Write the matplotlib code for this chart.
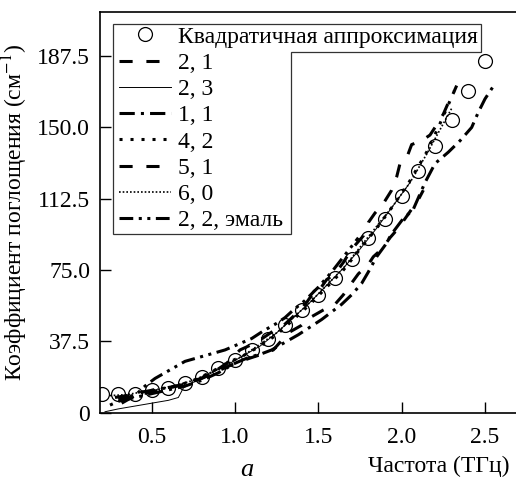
import matplotlib
matplotlib.use('Agg')
import matplotlib.pyplot as plt
from matplotlib.patches import Polygon

plt.rcParams['font.family'] = ['Liberation Serif', 'DejaVu Serif']
plt.rcParams['mathtext.fontset'] = 'stix'

# quadratic fit, shown as open circles
x_quad = [0.2, 0.3, 0.4, 0.5, 0.6, 0.7, 0.8, 0.9, 1.0, 1.1, 1.2, 1.3,
          1.4, 1.5, 1.6, 1.7, 1.8, 1.9, 2.0, 2.1, 2.2, 2.3, 2.4, 2.5]
y_quad = [10, 10, 10, 12, 13, 15.5, 19, 23.5, 27.5, 33, 39, 46,
          54, 62, 71, 81, 92, 102, 114, 127, 140, 154, 169, 185]

# measured samples
x_21 = [0.28, 0.35, 0.45, 0.55, 0.65, 0.75, 0.85, 0.95, 1.03, 1.08, 1.13, 1.18,
        1.23, 1.28, 1.33, 1.39, 1.43, 1.47, 1.51, 1.55, 1.60, 1.65, 1.70, 1.73,
        1.77, 1.80, 1.84, 1.89, 1.94, 1.97, 1.99, 2.03, 2.06, 2.12, 2.17, 2.20,
        2.25, 2.28, 2.31, 2.33]
y_21 = [8, 9, 11, 12.5, 14, 16.5, 20, 26, 33, 35, 37, 40,
        43, 45, 49, 54, 58, 63, 65, 70, 73, 79, 86, 89,
        93, 100, 105, 110, 117, 124, 131, 134, 141, 143, 146, 150,
        157, 163, 168, 172]

x_23 = [0.22, 0.3, 0.4, 0.5, 0.6, 0.66, 0.69, 0.75, 0.85, 0.95, 1.05, 1.15,
        1.25, 1.35, 1.45, 1.55, 1.65, 1.75, 1.85, 1.95, 2.05]
y_23 = [0.5, 2, 3.5, 5, 6.5, 8, 13, 16, 20.5, 25, 30, 35,
        42, 50, 58, 67, 76, 86, 97, 109, 121]

x_11 = [0.3, 0.4, 0.5, 0.6, 0.7, 0.8, 0.9, 1.0, 1.08, 1.16, 1.22, 1.3,
        1.38, 1.45, 1.52, 1.58, 1.64, 1.7, 1.76, 1.8, 1.85, 1.9, 1.94, 2.0,
        2.07, 2.14, 2.2, 2.28, 2.35, 2.42, 2.46, 2.5, 2.56]
y_11 = [6, 8, 10, 12, 14, 17, 21, 26, 29, 31, 33, 37,
        41, 45, 49, 53, 57, 62, 68, 74, 82, 88, 94, 101,
        107, 121, 131, 137, 143, 150, 158, 165, 173]

x_42 = [0.25, 0.35, 0.45, 0.55, 0.65, 0.75, 0.85, 0.95, 1.05, 1.15, 1.25, 1.35,
        1.45, 1.55, 1.65, 1.75, 1.85, 1.95, 2.05, 2.15, 2.22, 2.28, 2.33]
y_42 = [4, 8, 11, 12.5, 14, 17, 21, 26, 30, 35, 41, 49,
        57, 66, 75, 86, 97, 109, 122, 137, 150, 162, 172]

x_51 = [0.3, 0.4, 0.5, 0.6, 0.7, 0.8, 0.9, 1.0, 1.1, 1.17, 1.23, 1.32,
        1.4, 1.45, 1.53, 1.6, 1.65, 1.69, 1.74, 1.8, 1.83, 1.88, 1.93, 1.97,
        2.02, 2.1, 2.13]
y_51 = [7, 9, 11, 13, 15, 18, 22, 26, 29, 31, 33, 42,
        46, 50, 54, 57, 62, 67, 73, 78, 82, 86, 92, 96,
        102, 112, 117]

x_60 = [0.25, 0.35, 0.45, 0.55, 0.65, 0.75, 0.85, 0.95, 1.05, 1.15, 1.25, 1.35,
        1.45, 1.55, 1.65, 1.75, 1.85, 1.95, 2.05, 2.15, 2.25, 2.3]
y_60 = [9, 9.5, 11, 12.5, 14.5, 17, 21, 25.5, 30, 36, 42, 50,
        58, 67, 76, 87, 98, 109, 121, 136, 152, 160]

x_en = [0.32, 0.4, 0.46, 0.52, 0.58, 0.64, 0.7, 0.78, 0.86, 0.94, 1.02, 1.1,
        1.17, 1.25, 1.3, 1.35, 1.42, 1.5, 1.58, 1.66, 1.74]
y_en = [5, 9, 14, 18, 21, 24, 27, 29, 31, 33, 36, 39,
        43, 47, 50, 54, 59, 66, 74, 83, 92]

labels = ['Квадратичная аппроксимация', '2, 1', '2, 3', '1, 1',
          '4, 2', '5, 1', '6, 0', '2, 2, эмаль']

y_ticks = [0, 37.5, 75.0, 112.5, 150.0, 187.5]
y_ticklabels = ['0', '37.5', '75.0', '112.5', '150.0', '187.5']
x_ticks = [0.5, 1.0, 1.5, 2.0, 2.5]

W, H = 516, 482
fig = plt.figure(figsize=(W / 100, H / 100), dpi=100)
ax = fig.add_axes([100 / W, 69.3 / H, 420 / W, 400.7 / H])

FS = 17
lw = 2.2
ax.plot(x_quad, y_quad, 'o', ms=10, mfc='none', mec='black', mew=0.9,
        label=labels[0], zorder=5)
ax.plot(x_21, y_21, color='black', lw=lw, dashes=(4.3, 4.5), label=labels[1])
ax.plot(x_23, y_23, color='black', lw=0.7, label=labels[2])
ax.plot(x_11, y_11, color='black', lw=lw, dashes=(5, 2, 1, 2), label=labels[3])
ax.plot(x_42, y_42, color='black', lw=lw, dashes=(1, 2.6), label=labels[4])
ax.plot(x_51, y_51, color='black', lw=lw, dashes=(4.3, 4.5), label=labels[5])
ax.plot(x_60, y_60, color='black', lw=1.2, dashes=(1, 1.2), label=labels[6])
ax.plot(x_en, y_en, color='black', lw=lw,
        dashes=(4.5, 1.8, 1, 1.8, 1, 1.8), label=labels[7])

ax.set_xlim(0.19, 2.71)
ax.set_ylim(0, 210.7)
ax.set_xticks(x_ticks)
ax.set_xticklabels(['0.5', '1.0', '1.5', '2.0', '2.5'])
ax.set_yticks(y_ticks)
ax.set_yticklabels(y_ticklabels)
ax.tick_params(direction='in', length=8, width=1, labelsize=FS, pad=7)
ax.tick_params(axis='x', pad=10)
for s in ax.spines.values():
    s.set_linewidth(1.2)

ax.set_ylabel('Коэффициент поглощения (см$^{-1}$)', fontsize=FS, labelpad=5)
fig.text(510 / W, 1 - 466 / H, 'Частота (ТГц)', fontsize=FS,
         ha='right', va='center')
fig.text(247 / W, 1 - 470 / H, 'а', fontsize=FS + 2, style='italic',
         ha='center', va='center')

leg = ax.legend(loc='upper left', bbox_to_anchor=(119 / W, 1 - 26 / H),
                bbox_transform=fig.transFigure, frameon=False,
                fontsize=FS, handlelength=2.2, handletextpad=0.3,
                labelspacing=0.2, borderpad=0, borderaxespad=0, numpoints=1)

# L-shaped frame around the legend, sized from the rendered texts
fig.canvas.draw()
r = fig.canvas.get_renderer()
boxes = [t.get_window_extent(r) for t in leg.get_texts()]
lb = leg.get_window_extent(r)
x0 = lb.x0 - 6
top = boxes[0].y1 + 3
wide = boxes[0].x1 + 3
narrow = max(b.x1 for b in boxes[1:]) + 8
step = (boxes[0].y0 + boxes[1].y1) / 2 - 2
bottom = boxes[-1].y0 - 3
pts = [(x0, top), (wide, top), (wide, step), (narrow, step),
       (narrow, bottom), (x0, bottom)]
frame = Polygon(pts, closed=True, fill=False, edgecolor='#333333', lw=0.9,
                transform=None)
fig.patches.append(frame)

fig.savefig('out.png', dpi=100)
